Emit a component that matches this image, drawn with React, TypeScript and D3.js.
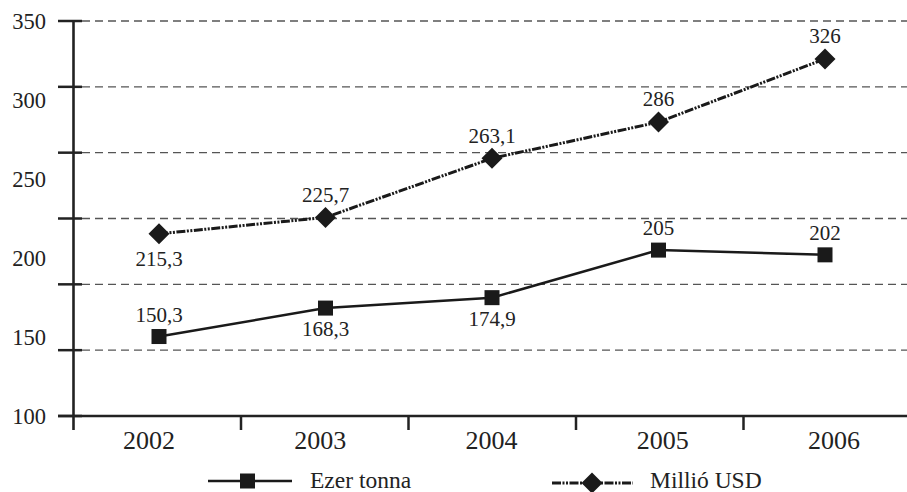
import React from "react";
import * as d3 from "d3";

const categories = ["2002", "2003", "2004", "2005", "2006"];
const ezerTonna = [150.3, 168.3, 174.9, 205, 202];
const millioUSD = [215.3, 225.7, 263.1, 286, 326];
const yTickLabels = [100, 150, 200, 250, 300, 350];
const tonnaLabelAbove = [true, false, false, true, true];
const usdLabelAbove = [false, true, true, true, true];

const W = 907;
const H = 492;
const FONT = "'Liberation Serif', 'Times New Roman', serif";

export default function App() {
  const xBand = d3.scaleBand<string>().domain(categories).range([73.5, 911]);
  const xPt = d3.scalePoint<string>().domain(categories).range([159, 825]);
  const xLab = d3.scalePoint<string>().domain(categories).range([149, 834]);
  const y = d3.scaleLinear().domain([100, 350]).range([416, 21]);
  const cx = (c: string) => xPt(c) as number;
  const gridVals = d3.range(1, 7).map((k) => 100 + (k * 250) / 6);
  const line = d3
    .line<number>()
    .x((_, i) => cx(categories[i]))
    .y((v) => y(v));
  const fmt = (v: number) => String(v).replace(".", ",");
  const axisX = 73.5;
  const axisY = y(100);
  const dash = "9 1.5 2 1.5 2 1.5";

  return (
    <svg width={W} height={H} style={{ position: "absolute", left: 0, top: 0, background: "#fff" }}>
      <rect width={W} height={H} fill="#fff" />
      {gridVals.map((v, i) => (
        <line key={"g" + i} x1={82} x2={W} y1={y(v)} y2={y(v)} stroke="#555" strokeWidth={1.3} strokeDasharray="8 5" />
      ))}
      {[100, ...gridVals].map((v, i) => (
        <line key={"yt" + i} x1={58} x2={82} y1={y(v)} y2={y(v)} stroke="#222" strokeWidth={2.5} />
      ))}
      <line x1={axisX} x2={axisX} y1={20} y2={430} stroke="#222" strokeWidth={2.6} />
      <line x1={58} x2={W} y1={axisY} y2={axisY} stroke="#222" strokeWidth={2.6} />
      {categories.slice(1).map((c) => (
        <line key={"xt" + c} x1={xBand(c) as number} x2={xBand(c) as number} y1={axisY} y2={430} stroke="#222" strokeWidth={2.5} />
      ))}
      {yTickLabels.map((v) => (
        <text key={"yl" + v} x={46} y={y(v)} dy="0.35em" textAnchor="end" fontFamily={FONT} fontSize={22.5} fill="#222">
          {v}
        </text>
      ))}
      {categories.map((c) => (
        <text key={"xl" + c} x={xLab(c) as number} y={449} textAnchor="middle" fontFamily={FONT} fontSize={26} fill="#222">
          {c}
        </text>
      ))}
      <path d={line(ezerTonna) || ""} fill="none" stroke="#1a1a1a" strokeWidth={2.5} />
      <path d={line(millioUSD) || ""} fill="none" stroke="#1a1a1a" strokeWidth={3} strokeDasharray={dash} />
      {ezerTonna.map((v, i) => (
        <rect key={"sq" + i} x={cx(categories[i]) - 7.5} y={y(v) - 7.5} width={15} height={15} fill="#1a1a1a" />
      ))}
      {millioUSD.map((v, i) => {
        const px = cx(categories[i]);
        const py = y(v);
        const r = 10.5;
        return <path key={"dm" + i} d={`M${px},${py - r}L${px + r},${py}L${px},${py + r}L${px - r},${py}Z`} fill="#1a1a1a" />;
      })}
      {ezerTonna.map((v, i) => (
        <text
          key={"tl" + i}
          x={cx(categories[i])}
          y={y(v) + (tonnaLabelAbove[i] ? -22 : 21)}
          dy="0.35em"
          textAnchor="middle"
          fontFamily={FONT}
          fontSize={21}
          fill="#222"
        >
          {fmt(v)}
        </text>
      ))}
      {millioUSD.map((v, i) => (
        <text
          key={"ul" + i}
          x={cx(categories[i])}
          y={y(v) + (usdLabelAbove[i] ? -23 : 25)}
          dy="0.35em"
          textAnchor="middle"
          fontFamily={FONT}
          fontSize={21}
          fill="#222"
        >
          {fmt(v)}
        </text>
      ))}
      <g>
        <line x1={208} x2={292} y1={481} y2={481} stroke="#1a1a1a" strokeWidth={2.5} />
        <rect x={240} y={473.5} width={15} height={15} fill="#1a1a1a" />
        <text x={310} y={488} fontFamily={FONT} fontSize={23.5} fill="#222">
          Ezer tonna
        </text>
        <line x1={552} x2={633} y1={483} y2={483} stroke="#1a1a1a" strokeWidth={3} strokeDasharray={dash} />
        <path d={`M592,${483 - 10.5}L602.5,483L592,${483 + 10.5}L581.5,483Z`} fill="#1a1a1a" />
        <text x={650} y={488} fontFamily={FONT} fontSize={23.5} fill="#222">
          Millió USD
        </text>
      </g>
    </svg>
  );
}
